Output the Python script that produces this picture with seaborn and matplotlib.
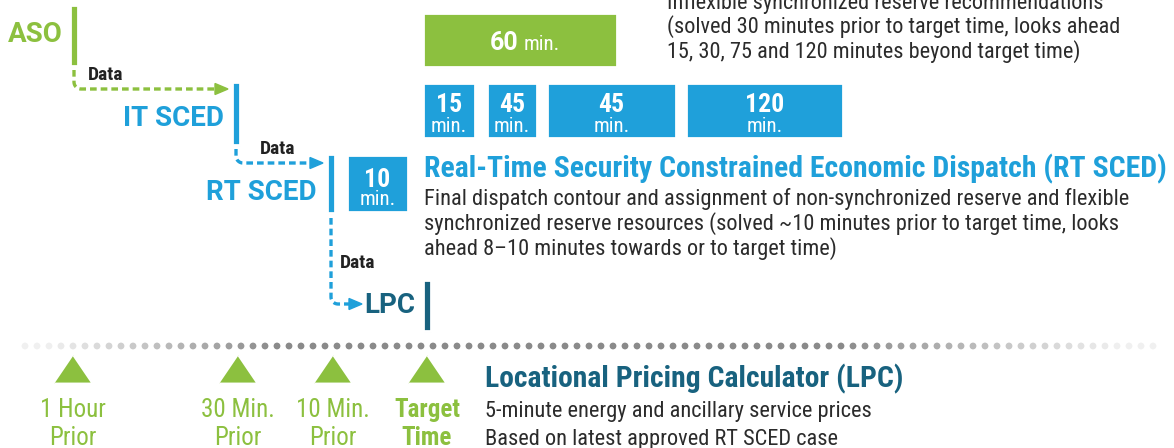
import numpy as np
import pandas as pd
import matplotlib
matplotlib.use("Agg")
import matplotlib.pyplot as plt
import matplotlib.patheffects as pe
from matplotlib.patches import Rectangle, Polygon
from matplotlib import font_manager
import seaborn as sns

# ---- data ----
stages = ["ASO", "IT SCED", "RT SCED", "LPC"]
aso_blocks = [60]
it_sced_blocks = [15, 45, 45, 120]
rt_sced_blocks = [10]
timeline_labels = ["1 Hour\nPrior", "30 Min.\nPrior", "10 Min.\nPrior", "Target\nTime"]
timeline_bold = [False, False, False, True]
link_label = "Data"
aso_desc = ["Inflexible synchronized reserve recommendations",
            "(solved 30 minutes prior to target time, looks ahead",
            "15, 30, 75 and 120 minutes beyond target time)"]
rt_title = "Real-Time Security Constrained Economic Dispatch (RT SCED)"
rt_desc = ["Final dispatch contour and assignment of non-synchronized reserve and flexible",
           "synchronized reserve resources (solved ~10 minutes prior to target time, looks",
           "ahead 8\u201310 minutes towards or to target time)"]
lpc_title = "Locational Pricing Calculator (LPC)"
lpc_desc = ["5-minute energy and ancillary service prices",
            "Based on latest approved RT SCED case"]

# ---- layout (pixels) ----
stage_bar_x = [74, 236, 331, 427]
stage_bar_y = [(5, 66), (82, 145), (154, 213), (280, 331)]
stage_label_xy = [(63, 42), (224, 126), (317, 200), (415, 313)]
it_box_x = [(423, 475), (487, 537), (547, 676), (686, 843)]
timeline_x = [73, 238, 333, 427]

GREEN = "#8CC03F"
BLUE = "#1FA0DA"
TEAL = "#18627F"
DARK = "#2B2B2B"
stage_colors = [GREEN, BLUE, BLUE, TEAL]

sns.set_theme(style="white")
names = {f.name for f in font_manager.fontManager.ttflist}
COND = next((n for n in ["Roboto Condensed", "Barlow Semi Condensed", "Archivo Narrow"]
             if n in names), "Roboto")
plt.rcParams["font.family"] = ["Roboto", "DejaVu Sans"]

fig = plt.figure(figsize=(11.74, 4.48), dpi=100)
ax = fig.add_axes([0, 0, 1, 1])
ax.set_xlim(0, 1174)
ax.set_ylim(448, 0)
ax.axis("off")
renderer = fig.canvas.get_renderer()

shadow = [pe.withSimplePatchShadow(offset=(1, -1.5), shadow_rgbFace="k", alpha=0.18), pe.Normal()]


def box(x0, x1, y0, y1, color):
    r = Rectangle((x0, y0), x1 - x0, y1 - y0, facecolor=color, edgecolor="white",
                  linewidth=2, zorder=3)
    r.set_path_effects(shadow)
    ax.add_patch(r)


def fit_block(texts, target_w):
    w = max(t.get_window_extent(renderer).width for t in texts)
    for t in texts:
        t.set_fontsize(t.get_fontsize() * target_w / w)


# stage bars and labels
for name, col, bx, (y0, y1), (lx, ly) in zip(stages, stage_colors, stage_bar_x,
                                             stage_bar_y, stage_label_xy):
    box(bx - 4, bx + 4, y0, y1, col)
    ax.text(lx, ly, name, color=col, fontsize=20, fontweight="bold",
            ha="right", va="baseline", family="Roboto")


# dotted connectors with rounded corner and arrowhead
def connector(x0, y0, y1, xt, color, r=7):
    ang = np.linspace(np.pi, np.pi / 2, 12)
    xs = np.concatenate([[x0, x0], x0 + r + r * np.cos(ang), [xt - 10]])
    ys = np.concatenate([[y0, y1 - r], y1 - r + r * np.sin(ang), [y1]])
    ax.plot(xs, ys, color=color, lw=2.4, ls=(0, (2, 1.2)), solid_capstyle="butt", zorder=2)
    ax.add_patch(Polygon([(xt, y1), (xt - 13, y1 - 5.5), (xt - 13, y1 + 5.5)],
                         closed=True, color=color, zorder=2))


connector(74, 70, 89, 228, GREEN)
connector(236, 149, 163, 323, BLUE)
connector(331, 218, 304, 362, BLUE)
for x, y in [(88, 80), (260, 154), (340, 268)]:
    ax.text(x, y, link_label, color="#222222", fontsize=14, fontweight="bold",
            ha="left", va="baseline", family=COND)

# ASO 60 min block
box(423, 617, 13, 67, GREEN)
ax.text(518, 50, str(aso_blocks[0]), color="white", fontsize=18, fontweight="bold",
        ha="right", va="baseline", zorder=4)
ax.text(524, 50, "min.", color="white", fontsize=15, ha="left", va="baseline",
        family=COND, zorder=4)

# IT SCED look-ahead blocks
for val, (x0, x1) in zip(it_sced_blocks, it_box_x):
    box(x0, x1, 83, 138, BLUE)
    cx = (x0 + x1) / 2
    ax.text(cx, 112, str(val), color="white", fontsize=18.5, fontweight="bold",
            ha="center", va="baseline", family=COND, zorder=4)
    ax.text(cx, 132, "min.", color="white", fontsize=15, ha="center",
            va="baseline", family=COND, zorder=4)

# RT SCED block
box(347, 408, 155, 212, BLUE)
ax.text(377.5, 187, str(rt_sced_blocks[0]), color="white", fontsize=18.5,
        fontweight="bold", ha="center", va="baseline", family=COND, zorder=4)
ax.text(377.5, 205, "min.", color="white", fontsize=15, ha="center",
        va="baseline", family=COND, zorder=4)

# descriptions
t = [ax.text(667, 8.5 + 24.5 * i, s, color=DARK, fontsize=14.7, ha="left",
             va="baseline", family=COND) for i, s in enumerate(aso_desc)]
fit_block(t, 1120 - 667)

th = ax.text(424, 177, rt_title, color=BLUE, fontsize=19, fontweight="bold",
             ha="left", va="baseline", family=COND)
fit_block([th], 1167 - 424)
t = [ax.text(424, 205 + 24.7 * i, s, color=DARK, fontsize=14.7, ha="left",
             va="baseline", family=COND) for i, s in enumerate(rt_desc)]
fit_block(t, 1128 - 424)

th = ax.text(485, 387, lpc_title, color=TEAL, fontsize=19, fontweight="bold",
             ha="left", va="baseline", family=COND)
fit_block([th], 903 - 485)
t = [ax.text(485, 417 + 28 * i, s, color=DARK, fontsize=14.7, ha="left",
             va="baseline", family=COND) for i, s in enumerate(lpc_desc)]
fit_block(t, 871 - 485)

# dotted timeline with faded ends
dots = pd.DataFrame({"x": np.arange(25, 1160, 12.0)})
fade = np.clip(np.minimum((dots["x"] - 15) / 260, (1160 - dots["x"]) / 320), 0.12, 1)
dots["y"] = 346
sns.scatterplot(data=dots, x="x", y="y", s=24, color="#8a8a8a", alpha=fade,
                linewidth=0, ax=ax, legend=False, zorder=1)

# timeline markers
marks = pd.DataFrame({"x": timeline_x, "y": 369, "label": timeline_labels})
tri = [(-19, -14), (19, -14), (0, 14)]
sns.scatterplot(data=marks, x="x", y="y", marker=tri, s=760, color=GREEN,
                edgecolor="white", linewidth=1.5, ax=ax, legend=False, zorder=3)
for x, lab, b in zip(marks["x"], marks["label"], timeline_bold):
    top, bot = lab.split("\n")
    for s, y in [(top, 417), (bot, 445)]:
        ax.text(x, y, s, color=GREEN, fontsize=18, fontweight="bold" if b else "normal",
                ha="center", va="baseline", family=COND)

fig.savefig("out.png", dpi=100)
